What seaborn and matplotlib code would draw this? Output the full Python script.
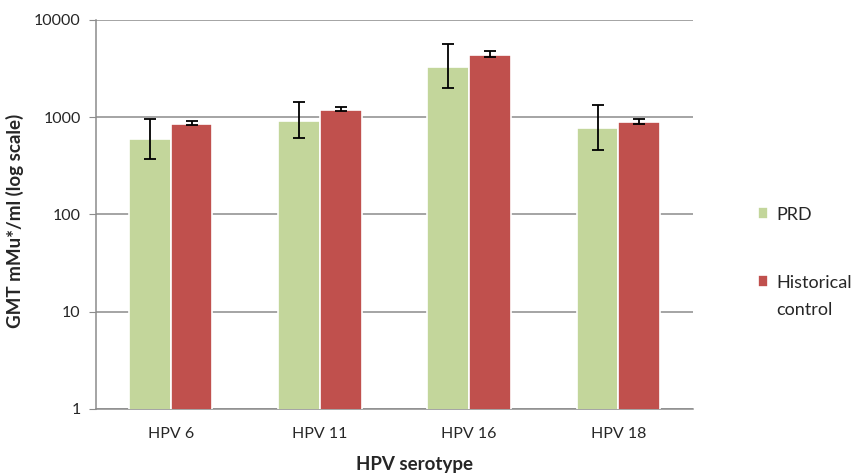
import numpy as np
import pandas as pd
import matplotlib
matplotlib.use("Agg")
import matplotlib.pyplot as plt
import seaborn as sns

# dados
serotypes = ["HPV 6", "HPV 11", "HPV 16", "HPV 18"]
prd_gmt = [600, 920, 3280, 775]
prd_low = [375, 615, 1990, 455]
prd_high = [970, 1440, 5600, 1330]
hist_gmt = [860, 1200, 4350, 900]
hist_low = [825, 1155, 4120, 850]
hist_high = [925, 1280, 4780, 970]

groups = ["PRD", "Historical\ncontrol"]
cores = ["#C3D69B", "#C0504D"]

df = pd.DataFrame({
    "serotype": serotypes * 2,
    "group": [groups[0]] * 4 + [groups[1]] * 4,
    "gmt": prd_gmt + hist_gmt,
})

sns.set_style("white")
plt.rcParams["font.family"] = ["Lato", "DejaVu Sans"]

fig = plt.figure(figsize=(8.61, 4.76), dpi=100)
ax = fig.add_axes([0.1115, 0.1408, 0.6935, 0.8172])

ax.set_yscale("log")
sns.barplot(data=df, x="serotype", y="gmt", hue="group", order=serotypes,
            hue_order=groups, palette=cores, width=0.56, errorbar=None,
            edgecolor="white", linewidth=1.2, saturation=1, ax=ax, zorder=3)

# barras de erro assimétricas
lows = [prd_low, hist_low]
highs = [prd_high, hist_high]
vals = [prd_gmt, hist_gmt]
bar_conts = list(ax.containers)
for k, cont in enumerate(bar_conts):
    xs = [p.get_x() + p.get_width() / 2 for p in cont.patches]
    v = np.array(vals[k])
    yerr = [v - np.array(lows[k]), np.array(highs[k]) - v]
    ax.errorbar(xs, v, yerr=yerr, fmt="none", ecolor="black",
                elinewidth=1.3, capsize=4, capthick=1.3, zorder=4)

ax.set_ylim(1, 10000)
ax.set_xlim(-0.5, 3.5)
ax.set_yticks([1, 10, 100, 1000, 10000])
ax.set_yticklabels(["1", "10", "100", "1000", "10000"])
ax.yaxis.set_minor_locator(matplotlib.ticker.NullLocator())
ax.grid(axis="y", color="#8C8C8C", linewidth=1.1, zorder=0)
ax.set_axisbelow(True)

# ticks do eixo x entre categorias
ax.set_xticks([0, 1, 2, 3])
ax.set_xticks([-0.5, 0.5, 1.5, 2.5, 3.5], minor=True)
ax.tick_params(axis="x", which="major", length=0, labelsize=11.5, pad=13)
ax.tick_params(axis="x", which="minor", length=5, color="#8C8C8C", direction="out")
ax.tick_params(axis="y", length=5, color="#8C8C8C", direction="out",
               labelsize=11.5, pad=6, left=True)

for s in ["top", "right"]:
    ax.spines[s].set_visible(False)
for s in ["left", "bottom"]:
    ax.spines[s].set_color("#8C8C8C")
    ax.spines[s].set_linewidth(1.1)

ax.set_xlabel("HPV serotype", fontsize=13.5, fontweight="bold")
ax.set_ylabel("GMT mMu*/ml (log scale)", fontsize=13.5, fontweight="bold")
ax.xaxis.set_label_coords(0.534, -0.12)
ax.yaxis.set_label_coords(-0.12, 0.483)

ax.get_legend().remove()
h, l = ax.get_legend_handles_labels()
leg = fig.legend(h, l, loc="upper left", bbox_to_anchor=(0.861, 0.599), frameon=False,
                 fontsize=13, handlelength=0.6, handleheight=0.6, handletextpad=0.45,
                 labelspacing=2.9)
leg.get_texts()[1].set_linespacing(1.8)
# alinhar o quadrado com a primeira linha do texto
for col in leg._legend_handle_box.get_children():
    for entry in col.get_children():
        entry.align = "top"

fig.savefig("out.png", dpi=100)
